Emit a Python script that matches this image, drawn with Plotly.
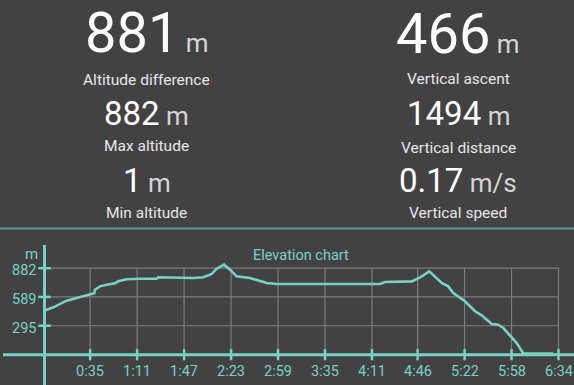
import plotly.graph_objects as go

# ---------------- data ----------------
time_min = [0, 6.7, 17.0, 24.7, 34.9, 38.2, 38.7, 42.5, 47.7, 54.0, 56.6, 63.0, 73.2, 86.0,
            87.2, 114.1, 121.7, 128.2, 132.0, 134.5, 137.6, 142.2, 147.3, 157.5, 161.4,
            170.3, 178.0, 257.2, 261.0, 281.5, 287.9, 295.0, 304.5, 309.5, 313.4, 322.3,
            330.0, 335.1, 342.8, 347.8, 351.7, 358.1, 362.0, 367.0, 379.8, 390.0]
elevation_m = [449, 483, 551, 578, 619, 626, 663, 697, 714, 728, 748, 769, 775, 775,
               789, 782, 789, 823, 877, 899, 918, 867, 799, 782, 765,
               731, 721, 721, 741, 748, 789, 850, 731, 697, 629, 545,
               443, 402, 313, 306, 272, 170, 119, 14, 12, 12]

x_tick_labels = ["0:35", "1:11", "1:47", "2:23", "2:59", "3:35", "4:11", "4:46", "5:22", "5:58", "6:34"]
y_tick_values = [295, 589, 882]
y_tick_labels = ["295", "589", "882"]

stat_values = ["881", "882", "1", "466", "1494", "0.17"]
stat_units = ["m", "m", "m", "m", "m", "m/s"]
stat_labels = ["Altitude difference", "Max altitude", "Min altitude",
               "Vertical ascent", "Vertical distance", "Vertical speed"]

# ---------------- style ----------------
W, H = 574, 385
BG = "#424242"
TEAL = "#78d2c3"
GRID = "#7c7c7c"
FONT = "Roboto"

def tick_minutes(lbl):
    h, m = lbl.split(":")
    return int(h) * 60 + int(m)

x_tick_vals = [tick_minutes(l) for l in x_tick_labels]
x_end = x_tick_vals[-1]

def px_x(px):
    return px / W

def px_y(py):
    return 1 - py / H

# axes geometry (pixels)
x0_px, x1_px = 44.5, 558.5
y0_px, ytop_px = 354.7, 268.2
ppm_x = (x1_px - x0_px) / x_end
ppm_y = (y0_px - ytop_px) / max(y_tick_values)
x_range = [-x0_px / ppm_x, (W - x0_px) / ppm_x]
plot_top_px = 245
y_range = [-(H - y0_px) / ppm_y, (y0_px - plot_top_px) / ppm_y]

fig = go.Figure()

# elevation curve
fig.add_trace(go.Scatter(x=time_min, y=elevation_m, mode="lines",
                         line=dict(color=TEAL, width=2.6), hoverinfo="skip"))

# axis tick marks
fig.add_trace(go.Scatter(x=x_tick_vals, y=[0] * len(x_tick_vals), mode="markers",
                         marker=dict(symbol="line-ns", size=8, line=dict(color=TEAL, width=2.5)),
                         hoverinfo="skip"))
fig.add_trace(go.Scatter(x=[0] * len(y_tick_values), y=y_tick_values, mode="markers",
                         marker=dict(symbol="line-ew", size=9, line=dict(color=TEAL, width=2.5)),
                         hoverinfo="skip"))

shapes = []
# grid
for tv in x_tick_vals:
    shapes.append(dict(type="line", xref="x", yref="y", x0=tv, x1=tv, y0=0, y1=max(y_tick_values),
                       line=dict(color=GRID, width=1.2), layer="below"))
for yv in y_tick_values:
    shapes.append(dict(type="line", xref="x", yref="y", x0=0, x1=x_end, y0=yv, y1=yv,
                       line=dict(color=GRID, width=1.2), layer="below"))
# horizontal axis line
shapes.append(dict(type="line", xref="paper", yref="y", x0=px_x(3), x1=1, y0=0, y1=0,
                   line=dict(color=TEAL, width=3)))
# separator line
shapes.append(dict(type="line", xref="paper", yref="paper", x0=0, x1=1,
                   y0=px_y(228.5), y1=px_y(228.5), line=dict(color="#5a9d94", width=2)))

annotations = []
# stats
big_sizes = [56, 33, 33, 56, 33, 33]
unit_sizes = [26, 26, 26, 26, 26, 26]
val_y = [33, 113.5, 180.5, 34, 113.5, 180.5]
lbl_y = [80, 146.5, 212.5, 79, 147.5, 213]
col_x = [146.5, 146.5, 146.5, 458, 458, 458]
for i in range(6):
    txt = (f"{stat_values[i]}<span style='font-size:{unit_sizes[i]}px;color:#d4d4d4'>"
           f" {stat_units[i]}</span>")
    annotations.append(dict(text=txt, x=px_x(col_x[i]), y=px_y(val_y[i]), xref="paper", yref="paper",
                            xanchor="center", yanchor="middle", showarrow=False,
                            font=dict(family=FONT, size=big_sizes[i], color="#ffffff")))
    annotations.append(dict(text=stat_labels[i], x=px_x(col_x[i]), y=px_y(lbl_y[i]),
                            xref="paper", yref="paper", xanchor="center", yanchor="middle",
                            showarrow=False, font=dict(family=FONT, size=15.5, color="#e6e6e6")))

# chart title and unit label
annotations.append(dict(text="Elevation chart", x=px_x(301), y=px_y(255.5), xref="paper", yref="paper",
                        xanchor="center", yanchor="middle", showarrow=False,
                        font=dict(family=FONT, size=14.5, color=TEAL)))
annotations.append(dict(text="m", x=px_x(31), y=px_y(254), xref="paper", yref="paper",
                        xanchor="center", yanchor="middle", showarrow=False,
                        font=dict(family=FONT, size=15, color=TEAL)))
# tick labels
for tv, tl in zip(x_tick_vals, x_tick_labels):
    annotations.append(dict(text=tl, x=tv, y=px_y(371.7), xref="x", yref="paper",
                            xanchor="center", yanchor="middle", showarrow=False,
                            font=dict(family=FONT, size=14.5, color=TEAL)))
for yv, yl in zip(y_tick_values, y_tick_labels):
    annotations.append(dict(text=yl, x=px_x(37.5), y=yv, xref="paper", yref="y", yshift=-2.5,
                            xanchor="right", yanchor="middle", showarrow=False,
                            font=dict(family=FONT, size=14.5, color=TEAL)))

fig.update_layout(
    width=W, height=H,
    margin=dict(l=0, r=0, t=0, b=0, pad=0),
    paper_bgcolor=BG, plot_bgcolor=BG,
    showlegend=False,
    xaxis=dict(domain=[0, 1], range=x_range, showgrid=False, zeroline=True,
               zerolinecolor=TEAL, zerolinewidth=3, showticklabels=False, ticks="",
               fixedrange=True),
    yaxis=dict(domain=[0, (H - plot_top_px) / H], range=y_range, showgrid=False, zeroline=False,
               showticklabels=False, ticks="", fixedrange=True),
    shapes=shapes,
    annotations=annotations,
)

fig.write_html("out.html", config={"displayModeBar": False},
               post_script="document.body.style.margin='0';document.body.style.padding='0';"
                           "document.body.style.overflow='hidden';")
